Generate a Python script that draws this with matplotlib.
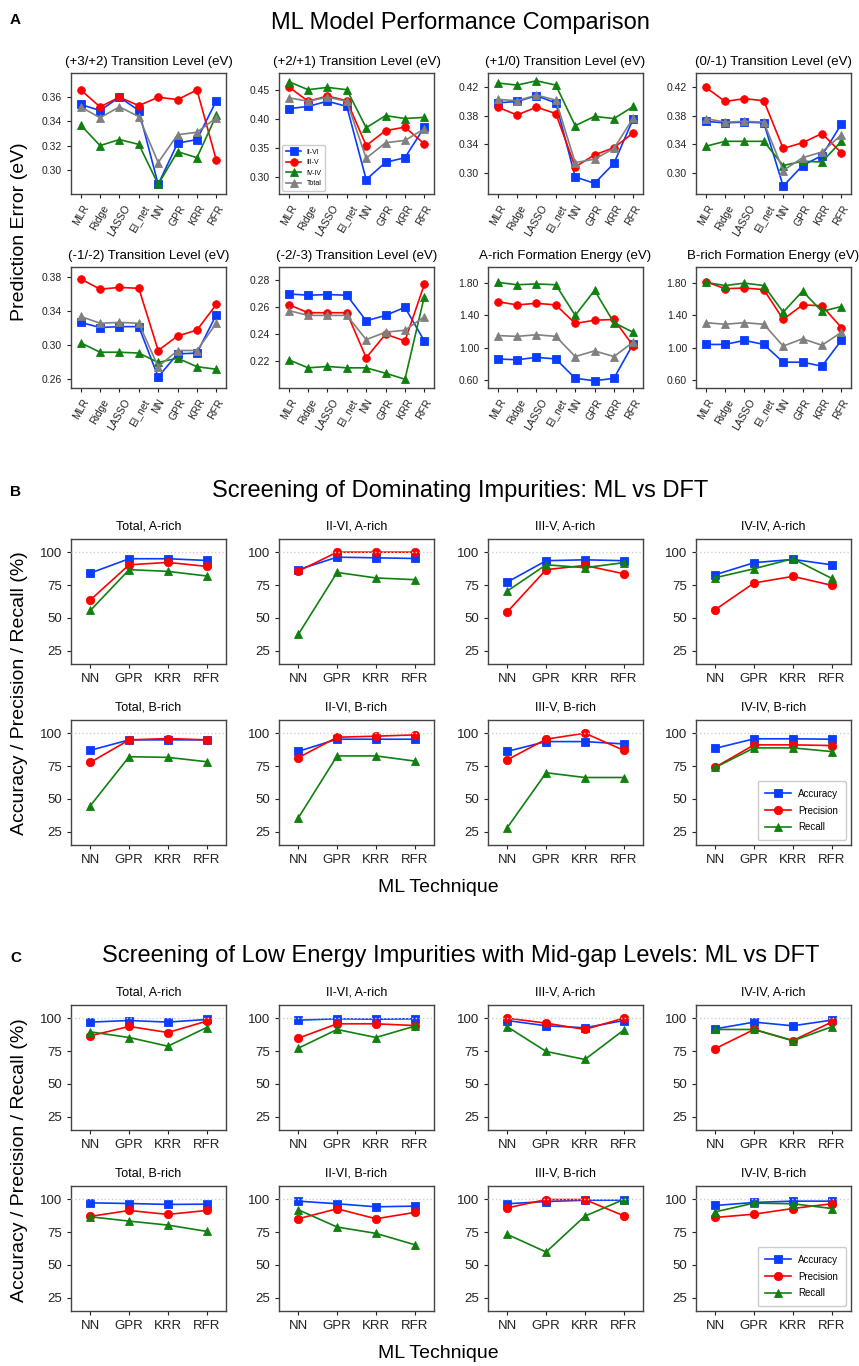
import matplotlib
matplotlib.use("Agg")
import matplotlib.pyplot as plt
from matplotlib.ticker import FormatStrFormatter

plt.rcParams['font.family'] = ['Liberation Sans Narrow', 'Liberation Sans', 'DejaVu Sans']

W, H = 859, 1366

# ---------------- Panel A data ----------------
methods = ["MLR", "Ridge", "LASSO", "El_net", "NN", "GPR", "KRR", "RFR"]
groups = ["II-VI", "III-V", "IV-IV", "Total"]
prop_titles = ["(+3/+2) Transition Level (eV)", "(+2/+1) Transition Level (eV)",
               "(+1/0) Transition Level (eV)", "(0/-1) Transition Level (eV)",
               "(-1/-2) Transition Level (eV)", "(-2/-3) Transition Level (eV)",
               "A-rich Formation Energy (eV)", "B-rich Formation Energy (eV)"]

err_p32 = {"II-VI": [0.354, 0.349, 0.360, 0.349, 0.288, 0.322, 0.325, 0.357],
           "III-V": [0.366, 0.352, 0.360, 0.353, 0.360, 0.358, 0.366, 0.308],
           "IV-IV": [0.337, 0.320, 0.325, 0.321, 0.288, 0.315, 0.310, 0.345],
           "Total": [0.352, 0.343, 0.352, 0.344, 0.306, 0.329, 0.331, 0.343]}
err_p21 = {"II-VI": [0.418, 0.422, 0.431, 0.422, 0.295, 0.325, 0.333, 0.386],
           "III-V": [0.456, 0.431, 0.440, 0.432, 0.354, 0.380, 0.386, 0.357],
           "IV-IV": [0.465, 0.451, 0.455, 0.451, 0.385, 0.406, 0.401, 0.403],
           "Total": [0.437, 0.431, 0.438, 0.431, 0.332, 0.359, 0.363, 0.383]}
err_p10 = {"II-VI": [0.398, 0.400, 0.408, 0.398, 0.294, 0.285, 0.313, 0.376],
           "III-V": [0.392, 0.381, 0.392, 0.383, 0.308, 0.325, 0.335, 0.356],
           "IV-IV": [0.426, 0.423, 0.429, 0.423, 0.366, 0.379, 0.376, 0.393],
           "Total": [0.403, 0.401, 0.409, 0.402, 0.314, 0.319, 0.334, 0.377]}
err_0m1 = {"II-VI": [0.372, 0.370, 0.371, 0.370, 0.281, 0.310, 0.324, 0.368],
           "III-V": [0.420, 0.400, 0.404, 0.401, 0.334, 0.342, 0.355, 0.328],
           "IV-IV": [0.337, 0.344, 0.344, 0.344, 0.310, 0.316, 0.315, 0.344],
           "Total": [0.376, 0.371, 0.372, 0.371, 0.303, 0.321, 0.329, 0.353]}
err_m1m2 = {"II-VI": [0.327, 0.321, 0.322, 0.322, 0.263, 0.290, 0.291, 0.336],
            "III-V": [0.378, 0.366, 0.368, 0.367, 0.294, 0.311, 0.318, 0.348],
            "IV-IV": [0.303, 0.292, 0.292, 0.291, 0.280, 0.285, 0.275, 0.272],
            "Total": [0.334, 0.326, 0.327, 0.326, 0.275, 0.294, 0.294, 0.326]}
err_m2m3 = {"II-VI": [0.270, 0.269, 0.2695, 0.269, 0.250, 0.254, 0.260, 0.235],
            "III-V": [0.262, 0.256, 0.256, 0.256, 0.2225, 0.240, 0.235, 0.277],
            "IV-IV": [0.221, 0.215, 0.216, 0.215, 0.215, 0.211, 0.2065, 0.268],
            "Total": [0.2576, 0.254, 0.254, 0.254, 0.236, 0.2415, 0.243, 0.253]}
err_fa = {"II-VI": [0.86, 0.85, 0.88, 0.86, 0.62, 0.59, 0.62, 1.05],
          "III-V": [1.57, 1.53, 1.55, 1.53, 1.30, 1.34, 1.35, 1.02],
          "IV-IV": [1.81, 1.78, 1.79, 1.78, 1.40, 1.71, 1.31, 1.19],
          "Total": [1.15, 1.14, 1.16, 1.14, 0.89, 0.96, 0.89, 1.07]}
err_fb = {"II-VI": [1.04, 1.04, 1.09, 1.04, 0.82, 0.82, 0.77, 1.09],
          "III-V": [1.82, 1.73, 1.74, 1.72, 1.35, 1.53, 1.52, 1.25],
          "IV-IV": [1.81, 1.77, 1.80, 1.77, 1.44, 1.70, 1.45, 1.51],
          "Total": [1.31, 1.29, 1.31, 1.29, 1.02, 1.11, 1.03, 1.19]}
panel_a = [err_p32, err_p21, err_p10, err_0m1, err_m1m2, err_m2m3, err_fa, err_fb]

a_ylims = [(0.28, 0.38), (0.27, 0.48), (0.27, 0.44), (0.27, 0.44),
           (0.25, 0.392), (0.20, 0.29), (0.5, 2.0), (0.5, 2.0)]
a_yticks = [[0.30, 0.32, 0.34, 0.36], [0.30, 0.35, 0.40, 0.45],
            [0.30, 0.34, 0.38, 0.42], [0.30, 0.34, 0.38, 0.42],
            [0.26, 0.30, 0.34, 0.38], [0.22, 0.24, 0.26, 0.28],
            [0.60, 1.00, 1.40, 1.80], [0.60, 1.00, 1.40, 1.80]]

# ---------------- Panels B / C data ----------------
techs = ["NN", "GPR", "KRR", "RFR"]
metrics = ["Accuracy", "Precision", "Recall"]
sub_titles = ["Total, A-rich", "II-VI, A-rich", "III-V, A-rich", "IV-IV, A-rich",
              "Total, B-rich", "II-VI, B-rich", "III-V, B-rich", "IV-IV, B-rich"]

dom_acc = [[84.1, 95.0, 95.0, 93.7], [86.7, 96.2, 95.7, 95.2],
           [77.3, 93.5, 94.2, 93.5], [82.9, 92.0, 94.5, 90.4],
           [87.0, 94.9, 94.9, 94.9], [86.2, 95.4, 95.4, 95.4],
           [86.2, 93.6, 93.6, 91.8], [88.5, 95.7, 95.7, 95.4]]
dom_prec = [[63.7, 90.4, 92.2, 89.2], [85.6, 100.0, 100.0, 100.0],
            [54.7, 86.7, 89.9, 83.6], [56.4, 76.6, 81.6, 74.8],
            [77.8, 94.9, 95.9, 94.9], [81.4, 96.9, 97.7, 98.7],
            [79.8, 95.4, 100.0, 87.0], [74.2, 91.1, 91.1, 90.6]]
dom_rec = [[55.7, 86.7, 85.4, 81.9], [37.6, 84.6, 80.4, 79.1],
           [70.5, 90.4, 88.2, 92.0], [80.6, 87.4, 95.0, 80.1],
           [44.9, 82.1, 81.6, 78.3], [35.7, 82.7, 82.7, 78.8],
           [28.3, 69.9, 66.3, 66.3], [74.0, 88.8, 88.8, 86.0]]

mid_acc = [[97.0, 98.2, 97.0, 99.0], [98.5, 99.5, 99.2, 99.5],
           [98.2, 94.2, 92.7, 98.2], [91.9, 97.0, 94.2, 98.5],
           [97.2, 96.7, 96.0, 96.2], [98.5, 96.5, 94.2, 94.7],
           [96.5, 98.2, 99.2, 99.2], [95.2, 97.5, 98.5, 98.5]]
mid_prec = [[86.6, 93.7, 89.1, 97.7], [84.8, 95.7, 95.7, 94.4],
            [100.0, 96.2, 91.4, 100.0], [76.9, 91.4, 83.0, 97.0],
            [86.9, 91.4, 88.4, 91.4], [85.1, 92.7, 85.1, 89.9],
            [93.4, 99.7, 99.7, 87.4], [86.1, 88.6, 92.9, 96.5]]
mid_rec = [[89.6, 85.3, 78.7, 92.9], [77.2, 91.4, 85.3, 93.9],
           [93.4, 74.7, 68.6, 90.9], [91.4, 91.4, 82.8, 93.4],
           [86.6, 83.3, 80.3, 75.5], [91.9, 78.8, 74.0, 65.4],
           [73.2, 59.8, 87.1, 99.7], [90.4, 97.0, 96.5, 92.9]]

# ---------------- styling ----------------
BLUE, RED, GREEN, GRAY = "#0a3cff", "#ff0000", "#108010", "#808080"
grp_style = {"II-VI": (BLUE, "s"), "III-V": (RED, "o"),
             "IV-IV": (GREEN, "^"), "Total": (GRAY, "^")}
met_style = {"Accuracy": (BLUE, "s"), "Precision": (RED, "o"), "Recall": (GREEN, "^")}

col_left = [71, 279, 488, 696]
ax_w = 155
rows = {"A1": (73, 194), "A2": (267, 388), "B1": (539, 664),
        "B2": (720, 845), "C1": (1005, 1130), "C2": (1186, 1311)}

fig = plt.figure(figsize=(W / 100, H / 100), dpi=100)


def make_ax(col, row):
    top, bot = rows[row]
    ax = fig.add_axes([col_left[col] / W, 1 - bot / H, ax_w / W, (bot - top) / H])
    for s in ax.spines.values():
        s.set_color("#444444")
        s.set_linewidth(1.0)
    ax.tick_params(colors="#222222", length=3, width=0.8)
    return ax


# Panel A
for i, data in enumerate(panel_a):
    ax = make_ax(i % 4, "A1" if i < 4 else "A2")
    x = list(range(len(methods)))
    for g in groups:
        c, m = grp_style[g]
        ax.plot(x, data[g], color=c, marker=m, ms=5.5, lw=1.2, label=g,
                mec=c, mew=0.6)
    ax.set_xlim(-0.5, 7.5)
    ax.set_ylim(*a_ylims[i])
    ax.set_yticks(a_yticks[i])
    ax.yaxis.set_major_formatter(FormatStrFormatter("%.2f"))
    ax.set_xticks(x)
    ax.set_xticklabels(methods, rotation=60, fontsize=7.5)
    ax.tick_params(axis="y", labelsize=7.5)
    ax.set_title(prop_titles[i], fontsize=9.5, pad=6)
    if i == 1:
        ax.legend(loc="lower left", fontsize=5, handlelength=2.2,
                  borderpad=0.5, labelspacing=0.5, framealpha=1)


def screening(acc, prec, rec, r1, r2):
    for i in range(8):
        ax = make_ax(i % 4, r1 if i < 4 else r2)
        x = list(range(len(techs)))
        for name, vals in zip(metrics, (acc[i], prec[i], rec[i])):
            c, m = met_style[name]
            ax.plot(x, vals, color=c, marker=m, ms=6, lw=1.2, label=name,
                    mec=c, mew=0.6)
        ax.axhline(100, color="#d0d0d0", ls=":", lw=1.0, zorder=5)
        ax.set_xlim(-0.5, 3.5)
        ax.set_ylim(15, 110)
        ax.set_yticks([25, 50, 75, 100])
        ax.set_xticks(x)
        ax.set_xticklabels(techs, fontsize=9.5)
        ax.tick_params(axis="y", labelsize=9.5)
        ax.set_title(sub_titles[i], fontsize=9, pad=7)
        if i == 7:
            ax.legend(loc="lower right", fontsize=7, handlelength=2.6,
                      borderpad=0.8, labelspacing=0.7, framealpha=1)


screening(dom_acc, dom_prec, dom_rec, "B1", "B2")
screening(mid_acc, mid_prec, mid_rec, "C1", "C2")

# section titles and shared labels
fig.text(460 / W, 1 - 23 / H, "ML Model Performance Comparison", ha="center", va="center", fontsize=17)
fig.text(460 / W, 1 - 491 / H, "Screening of Dominating Impurities: ML vs DFT", ha="center", va="center", fontsize=17)
fig.text(461 / W, 1 - 956 / H, "Screening of Low Energy Impurities with Mid-gap Levels: ML vs DFT",
         ha="center", va="center", fontsize=17)
for lab, yy in (("A", 20), ("B", 492), ("C", 958)):
    fig.text(10 / W, 1 - yy / H, lab, ha="left", va="center", fontsize=11,
             fontweight="bold", family=["Liberation Sans", "DejaVu Sans"])

fig.text(20 / W, 1 - 232 / H, "Prediction Error (eV)", rotation=90, ha="center", va="center", fontsize=14)
fig.text(20 / W, 1 - 693 / H, "Accuracy / Precision / Recall (%)", rotation=90, ha="center", va="center", fontsize=14)
fig.text(20 / W, 1 - 1160 / H, "Accuracy / Precision / Recall (%)", rotation=90, ha="center", va="center", fontsize=14)
fig.text(438 / W, 1 - 888 / H, "ML Technique", ha="center", va="center", fontsize=14)
fig.text(438 / W, 1 - 1353 / H, "ML Technique", ha="center", va="center", fontsize=14)

fig.savefig("out.png", dpi=100)
